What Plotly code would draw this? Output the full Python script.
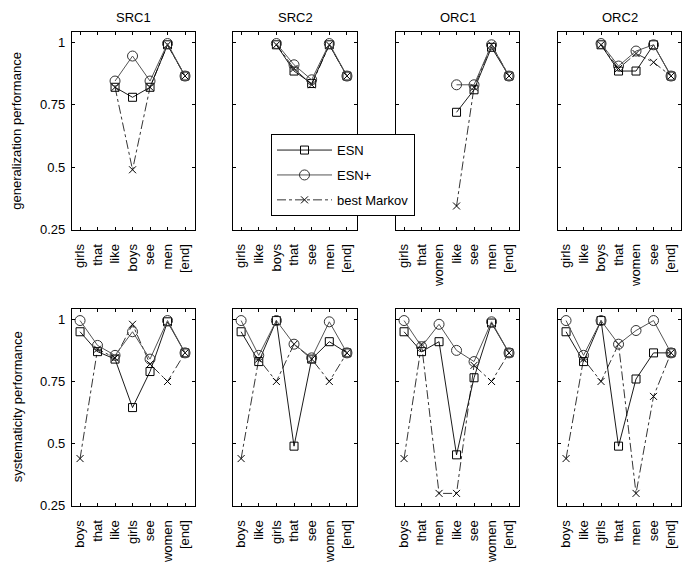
import plotly.graph_objects as go

W, H = 693, 572

titles = ["SRC1", "SRC2", "ORC1", "ORC2"]

# generalization (top row)
gen_cats = [
    ["girls", "that", "like", "boys", "see", "men", "[end]"],
    ["girls", "like", "boys", "that", "see", "men", "[end]"],
    ["girls", "that", "women", "like", "see", "men", "[end]"],
    ["girls", "like", "boys", "that", "women", "see", "[end]"],
]
gen_esn = [
    [None, None, 0.82, 0.78, 0.82, 0.99, 0.865],
    [None, None, 0.99, 0.885, 0.835, 0.99, 0.865],
    [None, None, None, 0.72, 0.81, 0.98, 0.865],
    [None, None, 0.99, 0.885, 0.885, 0.99, 0.865],
]
gen_esnp = [
    [None, None, 0.845, 0.945, 0.845, 0.995, 0.865],
    [None, None, 0.995, 0.91, 0.85, 0.995, 0.865],
    [None, None, None, 0.83, 0.83, 0.99, 0.865],
    [None, None, 0.995, 0.905, 0.965, 0.99, 0.865],
]
gen_markov = [
    [None, None, 0.82, 0.49, 0.82, 0.99, 0.865],
    [None, None, 0.99, 0.895, 0.83, 0.99, 0.865],
    [None, None, None, 0.345, 0.82, 0.99, 0.865],
    [None, None, 0.99, 0.895, 0.955, 0.92, 0.865],
]

# systematicity (bottom row)
sys_cats = [
    ["boys", "that", "like", "girls", "see", "women", "[end]"],
    ["boys", "like", "girls", "that", "see", "women", "[end]"],
    ["boys", "that", "men", "like", "see", "women", "[end]"],
    ["boys", "like", "girls", "that", "men", "see", "[end]"],
]
sys_esn = [
    [0.95, 0.87, 0.84, 0.645, 0.79, 0.99, 0.865],
    [0.95, 0.83, 0.995, 0.49, 0.84, 0.91, 0.865],
    [0.95, 0.87, 0.91, 0.455, 0.765, 0.985, 0.865],
    [0.95, 0.83, 0.995, 0.49, 0.76, 0.865, 0.865],
]
sys_esnp = [
    [0.995, 0.895, 0.855, 0.95, 0.84, 0.995, 0.865],
    [0.995, 0.855, 0.995, 0.90, 0.845, 0.99, 0.865],
    [0.995, 0.89, 0.98, 0.875, 0.83, 0.99, 0.865],
    [0.995, 0.855, 0.995, 0.90, 0.955, 0.995, 0.865],
]
sys_markov = [
    [0.44, 0.88, 0.845, 0.98, 0.82, 0.75, 0.865],
    [0.44, 0.84, 0.75, 0.90, 0.84, 0.75, 0.865],
    [0.44, 0.90, 0.30, 0.30, 0.815, 0.75, 0.865],
    [0.44, 0.84, 0.75, 0.90, 0.30, 0.69, 0.865],
]

ytick_vals = [0.25, 0.5, 0.75, 1]
ytick_text = ["0.25", "0.5", "0.75", "1"]
row_ylabels = ["generalization performance", "systematicity performance"]

FONT = "Liberation Sans, Arial, Helvetica, sans-serif"
FS = 13

# pixel layout of panels
col_x = [(72, 195), (233, 357), (396, 519), (558, 681)]
row_y = [(32, 233), (313, 513)]
YR = [0.25, 1.043]
XR = [-0.46, 6.57]

fig = go.Figure()

def px2fx(x):
    return x / W

def px2fy(y):
    return 1 - y / H

rows = [(gen_cats, gen_esn, gen_esnp, gen_markov), (sys_cats, sys_esn, sys_esnp, sys_markov)]
n = 0
for r, (cats, esn, esnp, mk) in enumerate(rows):
    for c in range(4):
        n += 1
        xa = "x" if n == 1 else f"x{n}"
        ya = "y" if n == 1 else f"y{n}"
        first = (n == 1)
        fig.add_trace(go.Scatter(
            x=cats[c], y=mk[c], xaxis=xa, yaxis=ya, mode="lines+markers",
            name="best Markov", legendgroup="mk", showlegend=first,
            line=dict(color="black", width=0.8, dash="dashdot"),
            marker=dict(symbol="x-thin-open", size=7, color="black",
                        line=dict(color="black", width=1)),
            connectgaps=False, legendrank=3))
        fig.add_trace(go.Scatter(
            x=cats[c], y=esn[c], xaxis=xa, yaxis=ya, mode="lines+markers",
            name="ESN", legendgroup="esn", showlegend=first,
            line=dict(color="black", width=0.9),
            marker=dict(symbol="square-open", size=8, color="black",
                        line=dict(color="black", width=1)),
            connectgaps=False, legendrank=1))
        fig.add_trace(go.Scatter(
            x=cats[c], y=esnp[c], xaxis=xa, yaxis=ya, mode="lines+markers",
            name="ESN+", legendgroup="esnp", showlegend=first,
            line=dict(color="#555555", width=1),
            marker=dict(symbol="circle-open", size=10, color="#333333",
                        line=dict(color="#333333", width=1)),
            connectgaps=False, legendrank=2))

        x0, x1 = col_x[c]
        y0, y1 = row_y[r]
        xkey = "xaxis" if n == 1 else f"xaxis{n}"
        ykey = "yaxis" if n == 1 else f"yaxis{n}"
        fig.layout[xkey] = dict(
            domain=[px2fx(x0), px2fx(x1)], anchor=ya, type="category",
            categoryorder="array", categoryarray=cats[c],
            range=XR, tickangle=-90, ticklabelstandoff=8,
            ticks="inside", ticklen=3, tickcolor="black", mirror="allticks",
            showline=True, linecolor="black", linewidth=1.3, showgrid=False,
            zeroline=False, tickfont=dict(size=FS, color="black", family=FONT))
        fig.layout[ykey] = dict(
            domain=[px2fy(y1), px2fy(y0)], anchor=xa, range=YR,
            tickvals=ytick_vals, ticktext=ytick_text,
            showticklabels=(c == 0), ticklabelstandoff=3,
            ticks="inside", ticklen=3, tickcolor="black", mirror="allticks",
            showline=True, linecolor="black", linewidth=1.3, showgrid=False,
            zeroline=False, tickfont=dict(size=FS, color="black", family=FONT))
        if r == 0:
            fig.add_annotation(text=titles[c], xref="paper", yref="paper",
                               x=px2fx((x0 + x1) / 2), y=px2fy(y0 - 5),
                               xanchor="center", yanchor="bottom", showarrow=False,
                               font=dict(size=FS, color="black", family=FONT))
    y0, y1 = row_y[r]
    fig.add_annotation(text=row_ylabels[r], xref="paper", yref="paper",
                       x=px2fx(17), y=px2fy((y0 + y1) / 2), textangle=-90,
                       xanchor="center", yanchor="middle", showarrow=False,
                       font=dict(size=FS, color="black", family=FONT))

fig.update_layout(
    width=W, height=H, margin=dict(l=0, r=0, t=0, b=0),
    paper_bgcolor="white", plot_bgcolor="white",
    font=dict(family=FONT, size=FS, color="black"),
    legend=dict(x=px2fx(271), y=px2fy(136), xanchor="left", yanchor="top",
                bgcolor="white", bordercolor="black", borderwidth=1,
                font=dict(size=FS, family=FONT, color="black"),
                tracegroupgap=5, itemwidth=55),
)

fig.write_html("out.html", config={"displayModeBar": False},
               post_script="document.body.style.margin='0';document.body.style.overflow='hidden';")
